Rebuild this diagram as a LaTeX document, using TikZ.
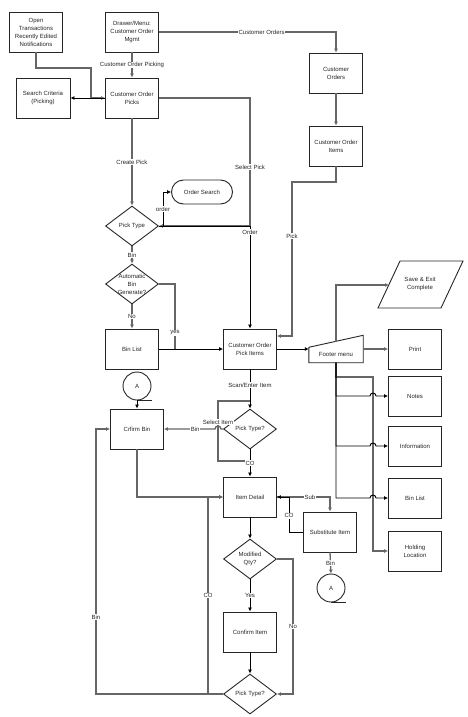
\documentclass[tikz,border=0pt]{standalone}
\usepackage{fontspec}
\setmainfont{Liberation Sans}
\usetikzlibrary{shapes.geometric,arrows.meta,calc}

\begin{document}
\begin{tikzpicture}[x=1pt,y=-1pt,
  font=\fontsize{6}{8}\selectfont,text=black!85,
  box/.style={draw=black!85,line width=0.9pt,minimum width=53pt,minimum height=40pt,align=center,inner sep=1pt},
  decision/.style={draw=black!85,line width=0.9pt,diamond,minimum width=53pt,minimum height=40pt,inner sep=0pt},
  offpage/.style={draw=black!85,line width=0.9pt,circle,minimum size=28pt,inner sep=0pt},
  flow/.style={draw=black!60,line width=1.3pt,-{Latex[length=4pt,width=4pt]}},
  flowdark/.style={draw=black,line width=0.9pt,-{Latex[length=4pt,width=4pt]}},
  lbl/.style={fill=white,inner sep=0.6pt}]
\path[use as bounding box,fill=white] (0,0) rectangle (468,717);
            % Boxes
\node[box] (open) at (36,32) {Open\\Transactions\\Recently Edited\\Notifications};
\node[box] (drawer) at (132,32) {Drawer/Menu:\\Customer Order\\Mgmt};
\node[box,minimum width=54pt] (search) at (43,98) {Search Criteria\\(Picking)};
\node[box] (picks) at (132,98) {Customer Order\\Picks};
\node[box] (corders) at (336,73) {Customer\\Orders};
\node[box] (citems) at (336,146) {Customer Order\\Items};
\node[draw=black!85,line width=0.9pt,rounded corners=12pt,minimum width=61pt,minimum height=24pt] (osearch) at (202,192) {Order Search};
\node[decision,label=center:Pick Type] (pt1) at (132,226) {};
\node[decision,label={[align=center]center:Automatic\\Bin\\Generate?}] (auto) at (132,284) {};
\node[box] (binlist) at (132,349) {Bin List};
\node[box] (items) at (250,349) {Customer Order\\Pick Items};
\node[minimum width=54pt,minimum height=27pt,inner sep=0pt,label={[yshift=-5pt]center:Footer menu}] (footer) at (336,349) {};
\draw[black!85,line width=0.9pt] (footer.south west) -- (footer.south east) -- (footer.north east) -- ($(footer.north west)+(0,12)$) -- cycle;
\node[align=center] (save) at (420,284) {Save \& Exit\\Complete};
\draw[black!85,line width=0.9pt] (378,308) -- (400,261) -- (463,261) -- (441,308) -- cycle;
\node[box] (print) at (415,349) {Print};
\node[box] (notes) at (415,396) {Notes};
\node[box] (info) at (415,446) {Information};
\node[box] (binlist2) at (415,498) {Bin List};
\node[box] (hold) at (415,551) {Holding\\Location};
\node[offpage] (aL) at (137,386) {A};
\node[box] (cbin) at (137,429) {Crfirm Bin};
\node[decision,label=center:Pick Type?] (pt2) at (250,429) {};
\node[box] (idet) at (250,497) {Item Detail};
\node[box] (subst) at (330,532) {Substitute Item};
\node[offpage] (aR) at (331,588) {A};
\node[decision,label={[align=center]center:Modified\\Qty?}] (mq) at (250,559) {};
\node[box] (ci) at (250,632) {Confirm Item};
\node[decision,label=center:Pick Type?] (pt3) at (250,694) {};
\draw[black!85,line width=0.9pt] (aL.south) -- ++(15,0);
\draw[black!85,line width=0.9pt] (aR.south) -- ++(15,0);
\coordinate (saveIn) at (389,285);
\coordinate (siTop) at (250,401);
\coordinate (siBot) at (250,461);
            % Top part
\draw[flow] (open.south) -- (36,68) -- (91,68) -- (91,98) -- (picks.west);
\draw[flowdark] (picks.west) -- (search.east);
\draw[flow] (drawer.south) -- node[lbl]{Customer Order Picking} (picks.north);
\draw[flow] (drawer.east) -| node[lbl,pos=0.29]{Customer Orders} (corders.north);
\draw[flow] (corders.south) -- (citems.north);
\draw[flow] (picks.south) -- node[lbl]{Create Pick} (pt1.north);
\draw[flow] (picks.east) -- (250,98) -- node[lbl,pos=0.54]{Select Pick} (250,226) -- (pt1.east);
\draw[flowdark] (pt1.east) -- (163,226) -- node[lbl]{order} (163,192) -- (osearch.west);
\draw[flowdark] (pt1.east) -| node[lbl,pos=0.53]{Order} (items.north);
\draw[flow] (pt1.south) -- node[lbl]{Bin} (auto.north);
\draw[flow] (auto.south) -- node[lbl]{No} (binlist.north);
\draw[flow,-] (auto.east) -- (175,284) -- node[lbl,pos=0.75]{yes} (175,349);
\draw[flowdark] (binlist.east) -- (items.west);
\draw[flow] (citems.south) -- (336,182) -- (292,182) -- node[lbl,pos=0.35]{Pick} (292,336) -- ($(items.east)+(0,-13)$);
            % Footer menu
\draw[flowdark] (items.east) -- (footer.west);
\draw[flow] (336,341.5) -- (336,285) -- (saveIn);
\draw[flow] (footer.east) -- (print.west);
\draw[flow] (footer.south) -- (336,377) -- (373,377) -- (373,551) -- (hold.west);
\draw[flowdark] (footer.south) -- (336,396) -- (370,396) arc[start angle=180,end angle=0,radius=3pt] -- (notes.west);
\draw[flowdark] (footer.south) -- (336,446) -- (370,446) arc[start angle=180,end angle=0,radius=3pt] -- (info.west);
\draw[flowdark] (footer.south) -- (336,498) -- (370,498) arc[start angle=180,end angle=0,radius=3pt] -- (binlist2.west);
            % Picking
\draw[flowdark] (items.south) -- node[lbl,pos=0.4]{Scan/Enter Item} (pt2.north);
\draw[flow,-] (siTop) -- (218,401) -- node[lbl,pos=0.35]{Select Item} (218,461) -- (siBot);
\draw[flow] (pt2.west) -- (221,429) arc[start angle=0,end angle=180,radius=3pt] -- node[lbl,pos=0.39]{Bin} (cbin.east);
\draw[flowdark] (aL.south) -- (cbin.north);
\draw[flowdark] (pt2.south) -- node[lbl]{CO} (idet.north);
\draw[flow] (cbin.south) |- (idet.west);
\draw[flow] (idet.east) -| node[lbl,pos=0.31]{Sub} (subst.north);
\draw[flowdark] (subst.west) -- (289,532) -- node[lbl,pos=0.46]{CO} (289,497) -- (idet.east);
\draw[flow] (subst.south) -- node[lbl]{Bin} (aR.north);
\draw[flowdark] (idet.south) -- (mq.north);
\draw[flowdark] (mq.south) -- node[lbl]{Yes} (ci.north);
\draw[flow] (mq.east) -- (293,559) -- node[lbl]{No} (293,694) -- (pt3.east);
\draw[flowdark] (ci.south) -- (pt3.north);
\draw[flow] (pt3.west) -- (208,694) -- node[lbl]{CO} (208,497) -- (idet.west);
\draw[flow] (pt3.west) -- (96,694) -- node[lbl,pos=0.29]{Bin} (96,429) -- (cbin.west);

          \end{tikzpicture}
\end{document}
